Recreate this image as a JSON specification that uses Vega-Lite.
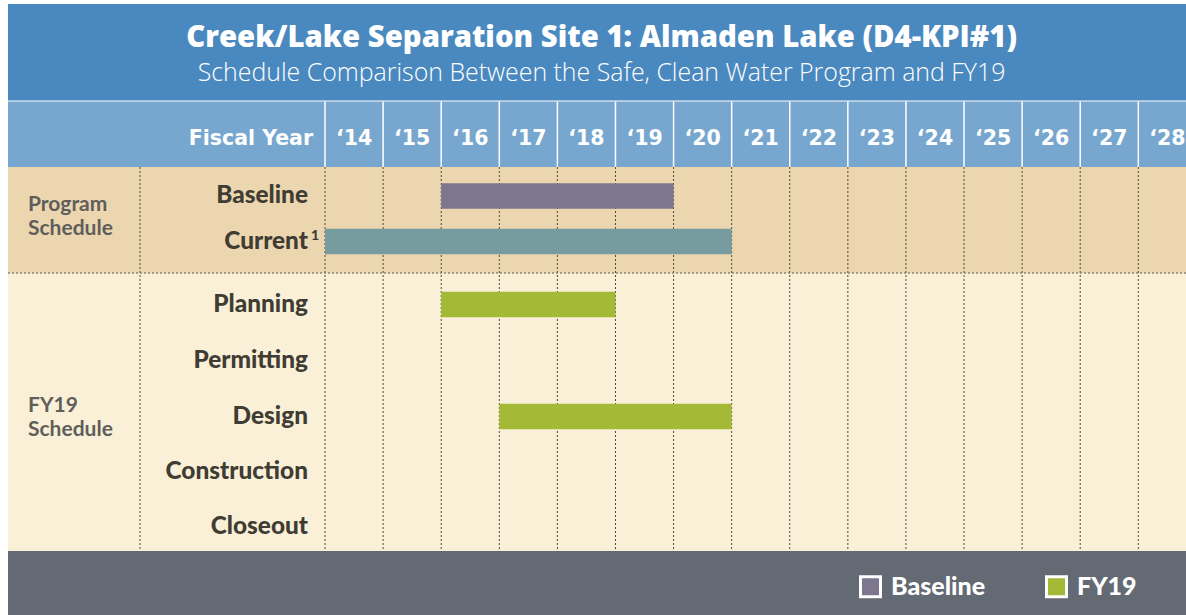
{
  "$schema": "https://vega.github.io/schema/vega-lite/v6.json",
  "width": 1186,
  "height": 615,
  "autosize": {"type": "none"},
  "padding": 0,
  "background": "#ffffff",
  "config": {
    "view": {"stroke": null},
    "axis": {"disable": true},
    "text": {"font": "Lato"}
  },
  "datasets": {
    "sections": [
      {"section": "Title", "top": 4, "bottom": 100.5},
      {"section": "Header", "top": 101.5, "bottom": 167},
      {"section": "Program Schedule", "top": 167, "bottom": 273},
      {"section": "FY19 Schedule", "top": 273, "bottom": 551},
      {"section": "Footer", "top": 551, "bottom": 615}
    ],
    "years": [
      {"fy": 2014, "label": "‘14"}, {"fy": 2015, "label": "‘15"}, {"fy": 2016, "label": "‘16"},
      {"fy": 2017, "label": "‘17"}, {"fy": 2018, "label": "‘18"}, {"fy": 2019, "label": "‘19"},
      {"fy": 2020, "label": "‘20"}, {"fy": 2021, "label": "‘21"}, {"fy": 2022, "label": "‘22"},
      {"fy": 2023, "label": "‘23"}, {"fy": 2024, "label": "‘24"}, {"fy": 2025, "label": "‘25"},
      {"fy": 2026, "label": "‘26"}, {"fy": 2027, "label": "‘27"}, {"fy": 2028, "label": "‘28"}
    ],
    "tasks": [
      {"task": "Baseline", "group": "Program Schedule", "series": "Baseline", "start": 2016, "end": 2020, "pos": 196},
      {"task": "Current", "group": "Program Schedule", "series": "Current", "start": 2014, "end": 2021, "pos": 241.5},
      {"task": "Planning", "group": "FY19 Schedule", "series": "FY19", "start": 2016, "end": 2019, "pos": 304.5},
      {"task": "Permitting", "group": "FY19 Schedule", "series": "FY19", "start": null, "end": null, "pos": 360.5},
      {"task": "Design", "group": "FY19 Schedule", "series": "FY19", "start": 2017, "end": 2021, "pos": 416.5},
      {"task": "Construction", "group": "FY19 Schedule", "series": "FY19", "start": null, "end": null, "pos": 471.5},
      {"task": "Closeout", "group": "FY19 Schedule", "series": "FY19", "start": null, "end": null, "pos": 527}
    ],
    "groups": [
      {"group": "Program Schedule", "lines": ["Program", "Schedule"], "pos": 211},
      {"group": "FY19 Schedule", "lines": ["FY19", "Schedule"], "pos": 412}
    ],
    "titles": [
      {"role": "title", "text": "Creek/Lake Separation Site 1: Almaden Lake (D4-KPI#1)"},
      {"role": "subtitle", "text": "Schedule Comparison Between the Safe, Clean Water Program and FY19"},
      {"role": "header", "text": "Fiscal Year"}
    ]
  },
  "layer": [
    {
      "data": {"name": "sections"},
      "mark": {"type": "rect"},
      "encoding": {
        "x": {"datum": 2008.543, "type": "quantitative", "scale": {"domain": [2008.405, 2028.821], "nice": false, "zero": false, "padding": 0}},
        "x2": {"datum": 2028.821},
        "y": {"field": "top", "type": "quantitative", "scale": {"domain": [0, 615], "reverse": true, "nice": false, "zero": false, "padding": 0}},
        "y2": {"field": "bottom"},
        "fill": {
          "field": "section", "type": "nominal", "legend": null,
          "scale": {
            "domain": ["Title", "Header", "Program Schedule", "FY19 Schedule", "Footer"],
            "range": ["#4a89bf", "#77a7cf", "#ecd6b0", "#faf0d7", "#636a74"]
          }
        }
      }
    },
    {
      "data": {"name": "years"},
      "mark": {"type": "rule", "stroke": "#4d463b", "strokeWidth": 1, "strokeDash": [2, 2]},
      "encoding": {
        "x": {"field": "fy", "type": "quantitative"},
        "y": {"datum": 167, "type": "quantitative"},
        "y2": {"datum": 551}
      }
    },
    {
      "data": {"values": [{"divider": "label column"}]},
      "mark": {"type": "rule", "stroke": "#4d463b", "strokeWidth": 1, "strokeDash": [2, 2]},
      "encoding": {
        "x": {"datum": 2010.815, "type": "quantitative"},
        "y": {"datum": 167, "type": "quantitative"},
        "y2": {"datum": 551}
      }
    },
    {
      "data": {"values": [{"divider": "section"}]},
      "mark": {"type": "rule", "stroke": "#8d8578", "strokeWidth": 1.6, "strokeDash": [2, 2]},
      "encoding": {
        "x": {"datum": 2008.543, "type": "quantitative"},
        "x2": {"datum": 2028.821},
        "y": {"datum": 273, "type": "quantitative"}
      }
    },
    {
      "data": {"name": "years"},
      "mark": {"type": "rule", "stroke": "#ffffff", "strokeWidth": 1.5},
      "encoding": {
        "x": {"field": "fy", "type": "quantitative"},
        "y": {"datum": 101.5, "type": "quantitative"},
        "y2": {"datum": 167}
      }
    },
    {
      "data": {"name": "tasks"},
      "transform": [{"filter": "isValid(datum.start)"}],
      "mark": {"type": "bar", "size": 25.5},
      "encoding": {
        "x": {"field": "start", "type": "quantitative"},
        "x2": {"field": "end"},
        "y": {"field": "pos", "type": "quantitative"},
        "color": {
          "field": "series", "type": "nominal",
          "scale": {"domain": ["Baseline", "Current", "FY19"], "range": ["#7c768e", "#769ca0", "#a4ba37"]},
          "legend": {
            "values": ["Baseline", "FY19"],
            "title": null,
            "orient": "none",
            "legendX": 858,
            "legendY": 574,
            "direction": "horizontal",
            "symbolType": "square",
            "symbolSize": 400,
            "symbolStrokeColor": "#ffffff",
            "symbolStrokeWidth": 3,
            "symbolOpacity": 1,
            "labelColor": "#ffffff",
            "labelFont": "Lato",
            "labelFontSize": 25,
            "labelFontWeight": 900,
            "labelOffset": 8,
            "columnPadding": 54,
            "encode": {
              "symbols": {"update": {"stroke": {"value": "#ffffff"}, "strokeWidth": {"value": 3}, "opacity": {"value": 1}}}
            }
          }
        }
      }
    },
    {
      "data": {"name": "years"},
      "mark": {"type": "text", "align": "center", "baseline": "alphabetic", "dx": 29.05, "font": "DejaVu Sans", "fontSize": 20.5, "fontWeight": "bold", "color": "#ffffff"},
      "encoding": {
        "x": {"field": "fy", "type": "quantitative"},
        "y": {"datum": 145, "type": "quantitative"},
        "text": {"field": "label"}
      }
    },
    {
      "data": {"name": "titles"},
      "transform": [{"filter": "datum.role === 'header'"}],
      "mark": {"type": "text", "align": "right", "baseline": "alphabetic", "font": "DejaVu Sans", "fontSize": 20.5, "fontWeight": "bold", "color": "#ffffff"},
      "encoding": {
        "x": {"datum": 2013.793, "type": "quantitative"},
        "y": {"datum": 145, "type": "quantitative"},
        "text": {"field": "text"}
      }
    },
    {
      "data": {"name": "titles"},
      "transform": [{"filter": "datum.role === 'title'"}],
      "mark": {"type": "text", "align": "center", "baseline": "alphabetic", "font": "Open Sans", "fontSize": 29.3, "fontWeight": 800, "color": "#ffffff"},
      "encoding": {
        "x": {"datum": 2018.76, "type": "quantitative"},
        "y": {"datum": 46.5, "type": "quantitative"},
        "text": {"field": "text"}
      }
    },
    {
      "data": {"name": "titles"},
      "transform": [{"filter": "datum.role === 'subtitle'"}],
      "mark": {"type": "text", "align": "center", "baseline": "alphabetic", "font": "Open Sans", "fontSize": 24.9, "fontWeight": 300, "color": "#ffffff"},
      "encoding": {
        "x": {"datum": 2018.76, "type": "quantitative"},
        "y": {"datum": 80.5, "type": "quantitative"},
        "text": {"field": "text"}
      }
    },
    {
      "data": {"name": "tasks"},
      "mark": {"type": "text", "align": "right", "baseline": "middle", "fontSize": 24.4, "fontWeight": 900, "color": "#3f3c33"},
      "encoding": {
        "x": {"datum": 2013.707, "type": "quantitative"},
        "y": {"field": "pos", "type": "quantitative"},
        "text": {"field": "task"}
      }
    },
    {
      "data": {"name": "tasks"},
      "transform": [{"filter": "datum.task === 'Current'"}],
      "mark": {"type": "text", "align": "left", "baseline": "middle", "fontSize": 14, "fontWeight": 900, "color": "#3f3c33", "text": "1", "dx": 3, "dy": -6},
      "encoding": {
        "x": {"datum": 2013.707, "type": "quantitative"},
        "y": {"field": "pos", "type": "quantitative"}
      }
    },
    {
      "data": {"name": "groups"},
      "mark": {"type": "text", "align": "left", "baseline": "alphabetic", "fontSize": 21, "fontWeight": "bold", "color": "#5f5e5b", "lineHeight": 24},
      "encoding": {
        "x": {"datum": 2008.887, "type": "quantitative"},
        "y": {"field": "pos", "type": "quantitative"},
        "text": {"field": "lines"}
      }
    }
  ]
}
